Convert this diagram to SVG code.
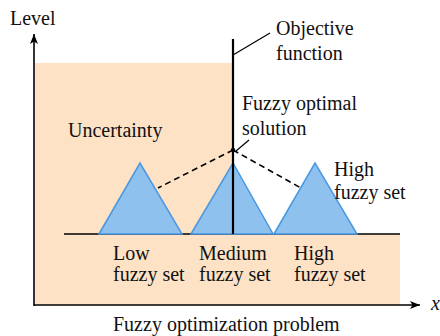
<svg xmlns="http://www.w3.org/2000/svg" width="440" height="336" viewBox="0 0 440 336">
<defs>
<style>
.t{font-size:20px;fill:#111}
.tri{fill:#8ec1ee;stroke:#4a98e0;stroke-width:1.5;stroke-linejoin:miter}
.ln{stroke:#000;fill:none}
.dash{stroke:#000;stroke-width:1.6;stroke-dasharray:6,4;fill:none}
</style>
<marker id="ah" markerWidth="10" markerHeight="8" refX="10" refY="4" orient="auto" markerUnits="userSpaceOnUse">
<path d="M0,0 L10,4 L0,8 L2.5,4 Z" fill="#000"/>
</marker>
</defs>
<g id="uncertainty-region">
<path d="M35,63 H233 V234 H400 V305 H35 Z" fill="#fde2c6"/>
</g>
<g id="connectors">
<line class="ln" x1="64" y1="234" x2="400" y2="234" stroke-width="1.6"/>
<line class="ln" x1="34" y1="306" x2="34" y2="34" stroke-width="1.6" marker-end="url(#ah)"/>
<line class="ln" x1="34" y1="305" x2="420" y2="305" stroke-width="1.6" marker-end="url(#ah)"/>
<line class="dash" x1="233" y1="150" x2="158" y2="188"/>
<line class="dash" x1="233" y1="150" x2="301" y2="188"/>
<line class="ln" x1="236" y1="151" x2="249" y2="140" stroke-width="1.2"/>
<line class="ln" x1="233" y1="55" x2="270" y2="33" stroke-width="1.2"/>
</g>
<g id="low-set">
<polygon class="tri" points="99,234 140,163 182,234"/>
</g>
<g id="medium-set">
<polygon class="tri" points="191,234 233,163 273,234"/>
</g>
<g id="high-set">
<polygon class="tri" points="274,234 315,163 357,234"/>
</g>
<g id="objective-function">
<line class="ln" x1="233" y1="39" x2="233" y2="234" stroke-width="2.2"/>
<circle cx="233" cy="150" r="2.2" fill="#000"/>
</g>
<g id="labels" font-family="'Liberation Serif', 'Times New Roman', 'DejaVu Serif', serif">
<text class="t" x="10" y="25">Level</text>
<text class="t" x="276" y="35">Objective</text>
<text class="t" x="276" y="60">function</text>
<text class="t" x="242" y="110">Fuzzy optimal</text>
<text class="t" x="242" y="135">solution</text>
<text class="t" x="68" y="137">Uncertainty</text>
<text class="t" x="334" y="176">High</text>
<text class="t" x="334" y="199">fuzzy set</text>
<text class="t" x="113" y="260">Low</text>
<text class="t" x="113" y="281">fuzzy set</text>
<text class="t" x="199" y="260">Medium</text>
<text class="t" x="199" y="281">fuzzy set</text>
<text class="t" x="294" y="260">High</text>
<text class="t" x="294" y="281">fuzzy set</text>
<text class="t" x="113" y="331">Fuzzy optimization problem</text>
<text class="t" x="431" y="310" font-style="italic">x</text>
</g>
</svg>
